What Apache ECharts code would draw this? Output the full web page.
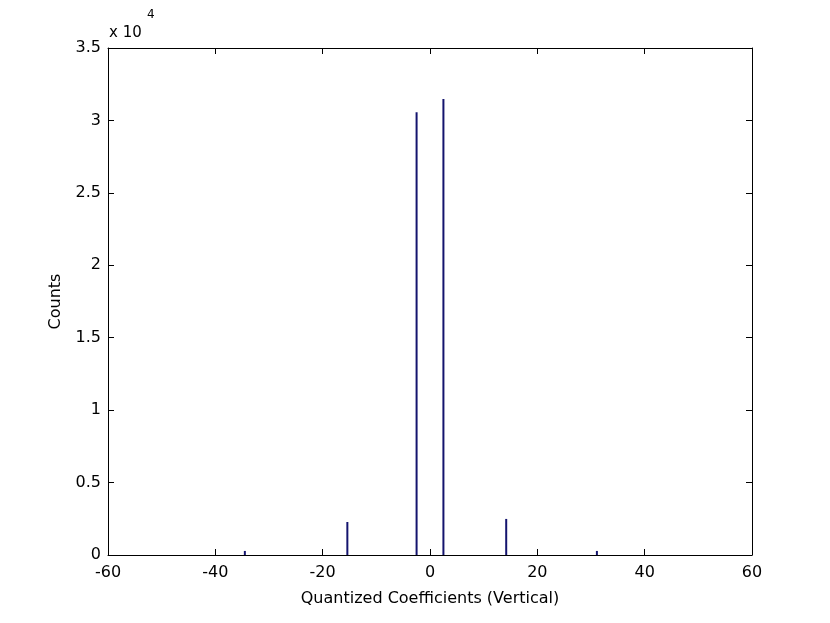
<!DOCTYPE html>
<html>
<head>
<meta charset="utf-8">
<script src="https://cdn.jsdelivr.net/npm/echarts@6/dist/echarts.min.js"></script>
<style>
  html, body { margin: 0; padding: 0; background: #fff; }
  #chart { width: 830px; height: 623px; }
</style>
</head>
<body>
<div id="chart"></div>
<script>
// coefficient positions and their counts
const coefficients = [-34.5, -15.4, -2.5, 2.5, 14.2, 31.1];
const counts = [280, 2280, 30560, 31480, 2490, 280];
const xTicks = [-60, -40, -20, 0, 20, 40, 60];
const yTicks = [0, 0.5, 1, 1.5, 2, 2.5, 3, 3.5]; // in units of 10^4

const font = "DejaVu Sans";
const ink = "#000";
const stemColor = "#14146e";

const chart = echarts.init(document.getElementById("chart"), null, { renderer: "canvas" });

const tickStyle = { inside: true, length: 6, lineStyle: { color: ink, width: 1 } };
const axisLine = { show: true, onZero: false, lineStyle: { color: ink, width: 1 } };

chart.setOption({
  animation: false,
  backgroundColor: "#fff",
  grid: { left: 108, right: 78, top: 48, bottom: 68, containLabel: false },
  xAxis: [{
    type: "value",
    min: xTicks[0],
    max: xTicks[xTicks.length - 1],
    interval: 20,
    axisLine,
    axisTick: tickStyle,
    splitLine: { show: false },
    axisLabel: { color: ink, fontFamily: font, fontSize: 16, margin: 10 },
    name: "Quantized Coefficients (Vertical)",
    nameLocation: "middle",
    nameGap: 36,
    nameTextStyle: { color: ink, fontFamily: font, fontSize: 16 },
  }, {
    type: "value",
    position: "top",
    min: xTicks[0],
    max: xTicks[xTicks.length - 1],
    interval: 20,
    axisLine,
    axisTick: tickStyle,
    axisLabel: { show: false },
    splitLine: { show: false },
  }],
  yAxis: [{
    type: "value",
    min: 0,
    max: yTicks[yTicks.length - 1] * 1e4,
    interval: 5000,
    axisLine,
    axisTick: tickStyle,
    splitLine: { show: false },
    axisLabel: { color: ink, fontFamily: font, fontSize: 16, margin: 7, formatter: v => String(v / 1e4) },
    name: "Counts",
    nameLocation: "middle",
    nameGap: 44,
    nameRotate: 90,
    nameTextStyle: { color: ink, fontFamily: font, fontSize: 16 },
  }, {
    type: "value",
    position: "right",
    min: 0,
    max: yTicks[yTicks.length - 1] * 1e4,
    interval: 5000,
    axisLine,
    axisTick: tickStyle,
    axisLabel: { show: false },
    splitLine: { show: false },
  }],
  graphic: [
    { type: "text", left: 109, top: 26, style: { text: "x 10", fill: ink, font: `15px "${font}"` } },
    { type: "text", left: 147, top: 9, style: { text: "4", fill: ink, font: `12px "${font}"` } },
  ],
  series: [{
    type: "bar",
    xAxisIndex: 0,
    yAxisIndex: 0,
    barWidth: 2,
    itemStyle: { color: stemColor },
    data: coefficients.map((c, i) => [c, counts[i]]),
  }],
});
</script>
</body>
</html>
